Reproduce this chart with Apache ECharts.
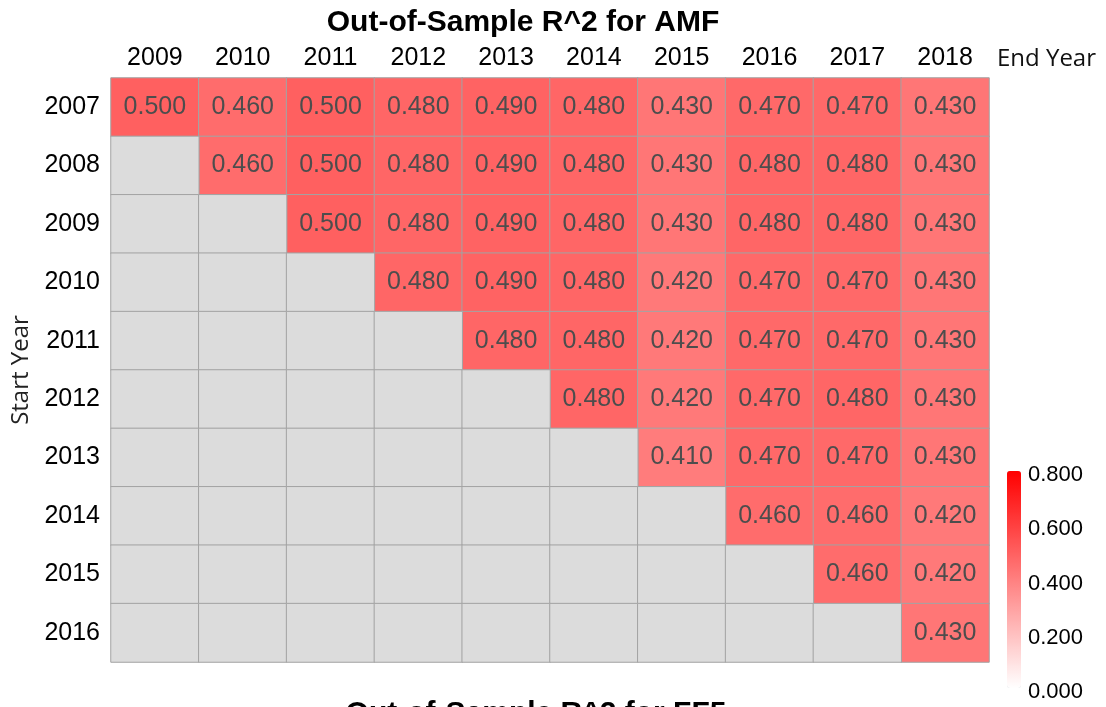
<!DOCTYPE html>
<html>
<head>
<meta charset="utf-8">
<script src="https://cdn.jsdelivr.net/npm/echarts@6/dist/echarts.min.js"></script>
<style>html,body{margin:0;padding:0;background:#fff}#c{width:1106px;height:707px}</style>
</head>
<body>
<div id="c"></div>
<script>
const endYears = ['2009','2010','2011','2012','2013','2014','2015','2016','2017','2018'];
const startYears = ['2007','2008','2009','2010','2011','2012','2013','2014','2015','2016'];
// null = no value (grey cell)
const r2007 = [0.500,0.460,0.500,0.480,0.490,0.480,0.430,0.470,0.470,0.430];
const r2008 = [null,0.460,0.500,0.480,0.490,0.480,0.430,0.480,0.480,0.430];
const r2009 = [null,null,0.500,0.480,0.490,0.480,0.430,0.480,0.480,0.430];
const r2010 = [null,null,null,0.480,0.490,0.480,0.420,0.470,0.470,0.430];
const r2011 = [null,null,null,null,0.480,0.480,0.420,0.470,0.470,0.430];
const r2012 = [null,null,null,null,null,0.480,0.420,0.470,0.480,0.430];
const r2013 = [null,null,null,null,null,null,0.410,0.470,0.470,0.430];
const r2014 = [null,null,null,null,null,null,null,0.460,0.460,0.420];
const r2015 = [null,null,null,null,null,null,null,null,0.460,0.420];
const r2016 = [null,null,null,null,null,null,null,null,null,0.430];
const rows = [r2007,r2008,r2009,r2010,r2011,r2012,r2013,r2014,r2015,r2016];
const legendTicks = [0, 0.2, 0.4, 0.6, 0.8];
const title1 = 'Out-of-Sample R^2 for AMF';
const title2 = 'Out-of-Sample R^2 for FF5';

const valData = [], emptyData = [];
rows.forEach((row, yi) => row.forEach((v, xi) => {
  if (v === null) emptyData.push([xi, yi, 0]);
  else valData.push([xi, yi, v]);
}));

const chart = echarts.init(document.getElementById('c'));
const F = 'Liberation Sans, Arial, sans-serif';
chart.setOption({
  animation: false,
  backgroundColor: '#ffffff',
  title: [
    {text: title1, left: 518, top: 3, textAlign: 'center',
     textStyle: {fontFamily: F, fontWeight: 'bold', fontSize: 30, color: '#000'}},
    {text: title2, left: 531, top: 694, textAlign: 'center',
     textStyle: {fontFamily: F, fontWeight: 'bold', fontSize: 30, color: '#000'}}
  ],
  grid: [
    {left: 111, right: 117, top: 78, bottom: 45},
    {left: 1007, width: 14, top: 475, height: 217}
  ],
  xAxis: [
    {type: 'category', data: endYears, position: 'top', gridIndex: 0,
     name: 'End Year', nameLocation: 'end', nameGap: 8,
     nameTextStyle: {fontFamily: 'Open Sans', fontSize: 24, color: '#111',
       verticalAlign: 'bottom', padding: [0, 0, 7, 0]},
     axisLine: {show: false}, axisTick: {show: false}, splitLine: {show: false},
     axisLabel: {fontFamily: F, fontSize: 25, color: '#000', margin: 7}},
    {type: 'value', gridIndex: 1, show: false}
  ],
  yAxis: [
    {type: 'category', data: startYears, inverse: true, gridIndex: 0,
     name: 'Start Year', nameLocation: 'middle', nameGap: 75, nameRotate: 90,
     nameTextStyle: {fontFamily: 'Open Sans', fontSize: 24, color: '#222'},
     axisLine: {show: false}, axisTick: {show: false}, splitLine: {show: false},
     axisLabel: {fontFamily: F, fontSize: 25, color: '#000', margin: 11}},
    {type: 'value', gridIndex: 1, min: 0, max: 0.8, interval: 0.2, position: 'right',
     axisLine: {show: false}, axisTick: {show: false}, splitLine: {show: false},
     axisLabel: {fontFamily: F, fontSize: 22, color: '#000', margin: 7,
       formatter: v => v.toFixed(3)}}
  ],
  visualMap: {
    type: 'continuous', min: 0, max: 0.8, seriesIndex: 0, calculable: false,
    orient: 'vertical', left: 1007, top: 471, itemWidth: 14, itemHeight: 217,
    padding: 0, showLabel: false, itemGap: 0,
    inRange: {color: ['#ffffff', '#ff0000']}
  },
  series: [
    {type: 'heatmap', xAxisIndex: 0, yAxisIndex: 0, data: valData,
     itemStyle: {borderColor: '#a3a3a3', borderWidth: 1},
     label: {show: true, formatter: p => p.value[2].toFixed(3),
       fontFamily: F, fontSize: 25, color: '#4d4d4d'},
     emphasis: {disabled: true}},
    {type: 'heatmap', xAxisIndex: 0, yAxisIndex: 0, data: emptyData,
     itemStyle: {color: '#dcdcdc', borderColor: '#a3a3a3', borderWidth: 1},
     label: {show: false}, emphasis: {disabled: true}},
    {type: 'scatter', xAxisIndex: 1, yAxisIndex: 1, data: legendTicks.map(v => [0, v]),
     symbolSize: 0, silent: true}
  ]
});
</script>
</body>
</html>
